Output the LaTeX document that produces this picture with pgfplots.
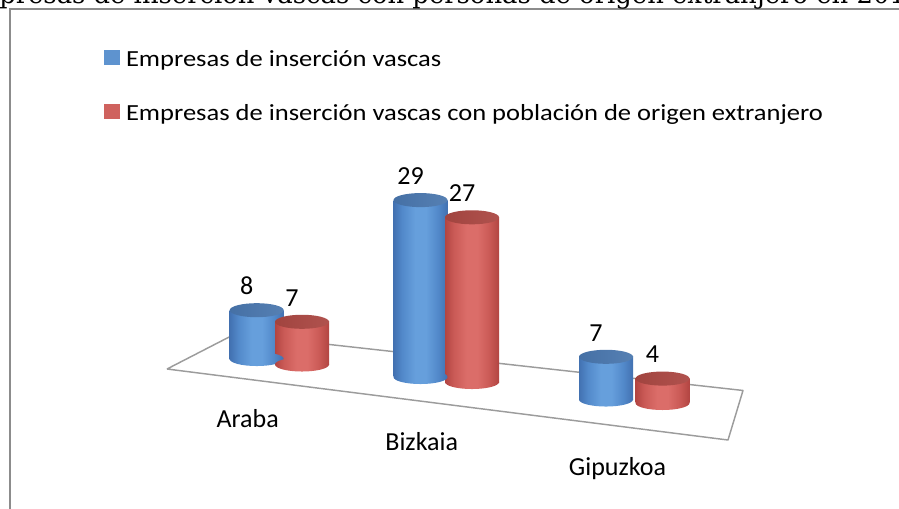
\documentclass[border=0pt]{standalone}
\usepackage{pgfplots}
\pgfplotsset{compat=1.18}
\usepackage{pgfplotstable}
\usepackage{fontspec}
\setmainfont{Carlito}
\newfontfamily\titlefont{DejaVu Serif}

\definecolor{bA}{HTML}{4271B1}
\definecolor{bB}{HTML}{5289CA}
\definecolor{bC}{HTML}{669FDC}
\definecolor{btop}{HTML}{4B76AA}
\definecolor{btopL}{HTML}{4570A5}
\definecolor{btopR}{HTML}{5680B3}
\definecolor{rA}{HTML}{B24542}
\definecolor{rB}{HTML}{CA5A56}
\definecolor{rC}{HTML}{DB6D69}
\definecolor{rtopL}{HTML}{A1443F}
\definecolor{rtopR}{HTML}{B0524E}
\definecolor{legblue}{HTML}{5E93CF}
\definecolor{legred}{HTML}{CF625E}
\definecolor{framegray}{HTML}{8C8C8C}
\definecolor{floorgray}{HTML}{9C9C9C}

\pgfdeclarehorizontalshading{bluecyl}{100bp}{color(0bp)=(bA); color(25bp)=(bA); color(33bp)=(bB); color(45bp)=(bC); color(55bp)=(bC); color(66bp)=(bB); color(75bp)=(bA); color(100bp)=(bA)}
\pgfdeclarehorizontalshading{redcyl}{100bp}{color(0bp)=(rA); color(25bp)=(rA); color(33bp)=(rB); color(45bp)=(rC); color(55bp)=(rC); color(66bp)=(rB); color(75bp)=(rA); color(100bp)=(rA)}
\pgfdeclarehorizontalshading{bluetop}{100bp}{color(0bp)=(btopL); color(25bp)=(btopL); color(75bp)=(btopR); color(100bp)=(btopR)}
\pgfdeclarehorizontalshading{redtop}{100bp}{color(0bp)=(rtopL); color(25bp)=(rtopL); color(75bp)=(rtopR); color(100bp)=(rtopR)}

% elliptic cylinder ends, shaded like the cylinder bodies
\pgfdeclareplotmark{cylendB}{\pgfpathellipse{\pgfpointorigin}{\pgfqpoint{20.25pt}{0pt}}{\pgfqpoint{0pt}{5.27pt}}\pgfshadepath{bluecyl}{0}\pgfusepath{discard}}
\pgfdeclareplotmark{cylendR}{\pgfpathellipse{\pgfpointorigin}{\pgfqpoint{20.25pt}{0pt}}{\pgfqpoint{0pt}{5.27pt}}\pgfshadepath{redcyl}{0}\pgfusepath{discard}}
\pgfdeclareplotmark{cyltopB}{\pgfpathellipse{\pgfpointorigin}{\pgfqpoint{20.25pt}{0pt}}{\pgfqpoint{0pt}{5.27pt}}\pgfshadepath{bluetop}{0}\pgfusepath{discard}}
\pgfdeclareplotmark{cyltopR}{\pgfpathellipse{\pgfpointorigin}{\pgfqpoint{20.25pt}{0pt}}{\pgfqpoint{0pt}{5.27pt}}\pgfshadepath{redtop}{0}\pgfusepath{discard}}

% x = horizontal position (px), base = floor level of the cylinder (perspective), val = value
\pgfplotstableread{
x base val
256.7 10.00 8
420.5 7.05 29
606.0 3.36 7
}\blueT
\pgfplotstableread{
x base val
302.0 9.10 7
472.0 6.23 27
662.5 2.79 4
}\redT
\pgfplotstableread{
x y label
247.7 -1.20 Araba
421.7 -5.03 Bizkaia
617.5 -9.02 Gipuzkoa
}\catT

\newcommand{\lbl}{\fontsize{19.5}{23}\selectfont}

\begin{document}
\begin{tikzpicture}
\useasboundingbox (0,0) rectangle (674.25pt,381pt);
\clip (0,0) rectangle (674.25pt,381pt);
\begin{axis}[
  at={(0,0)}, anchor=south west,
  x=0.75pt, y=4.575pt,
  xmin=0, xmax=899, ymin=-14.4262, ymax=68.8525,
  hide axis, clip=false,
  cyl/.style={forget plot, ybar, bar width=40.5pt, bar shift=0pt, draw=none, shade},
  ell/.style={forget plot, only marks, mark=#1},
  legend image code/.code={\fill[#1] (0pt,-2.7pt) rectangle (10.9pt,8.0pt);},
  legend cell align=left,
  legend style={at={(axis cs:104.3,60.656)}, anchor=north west,
    draw=none, fill=none, inner sep=0pt, outer sep=0pt,
    row sep=24pt, column sep=5pt, font=\fontsize{19.9}{23}\selectfont,
    nodes={inner sep=0pt, text height=12.5pt, text depth=3.5pt}},
]
% frame and cropped title
\draw[framegray, line width=1.5pt] (axis cs:10,-30) -- (axis cs:10,67.30) -- (axis cs:960,67.30);
\node[anchor=base west, inner sep=0pt, font=\titlefont\fontsize{19.4}{22}\selectfont]
  at (axis cs:-1,68.28) {presas de inserción vascas con personas de origen extranjero en 2011};

% floor
\addplot[forget plot, draw=floorgray, line width=1.1pt, line join=round, mark=none]
  coordinates {(167,8.36) (235,14.10) (743,4.84) (728,-3.28) (167,8.36)};

% blue series
\addplot[ell=cylendB] table[x=x, y=base] {\blueT};
\addplot[cyl, shading=bluecyl, yshift=10.00*4.575pt] coordinates {(256.7,8)};
\addplot[cyl, shading=bluecyl, yshift=7.05*4.575pt] coordinates {(420.5,29)};
\addplot[cyl, shading=bluecyl, yshift=3.36*4.575pt] coordinates {(606.0,7)};
\addplot[ell=cyltopB] table[x=x, y expr=\thisrow{base}+\thisrow{val}] {\blueT};

% red series
\addplot[ell=cylendR] table[x=x, y=base] {\redT};
\addplot[cyl, shading=redcyl, yshift=9.10*4.575pt] coordinates {(302.0,7)};
\addplot[cyl, shading=redcyl, yshift=6.23*4.575pt] coordinates {(472.0,27)};
\addplot[cyl, shading=redcyl, yshift=2.79*4.575pt] coordinates {(662.5,4)};
\addplot[ell=cyltopR] table[x=x, y expr=\thisrow{base}+\thisrow{val}] {\redT};

% value labels
\addplot[forget plot, draw=none, mark=none, nodes near coords, point meta=explicit symbolic,
  every node near coord/.style={anchor=center, xshift=-7.5pt, yshift=18pt, font=\lbl, inner sep=0pt, text=black}]
  table[x=x, y expr=\thisrow{base}+\thisrow{val}, meta=val] {\blueT};
\addplot[forget plot, draw=none, mark=none, nodes near coords, point meta=explicit symbolic,
  every node near coord/.style={anchor=center, xshift=-7.5pt, yshift=18pt, font=\lbl, inner sep=0pt, text=black}]
  table[x=x, y expr=\thisrow{base}+\thisrow{val}, meta=val] {\redT};

% category labels
\addplot[forget plot, draw=none, mark=none, nodes near coords, point meta=explicit symbolic,
  every node near coord/.style={anchor=base, font=\lbl, inner sep=0pt, text=black}]
  table[x=x, y=y, meta=label] {\catT};

\addlegendimage{legblue}
\addlegendentry{\scalebox{1}[0.87]{Empresas de inserción vascas}}
\addlegendimage{legred}
\addlegendentry{\scalebox{1}[0.87]{Empresas de inserción vascas con población de origen extranjero}}
\end{axis}
\end{tikzpicture}
\end{document}
